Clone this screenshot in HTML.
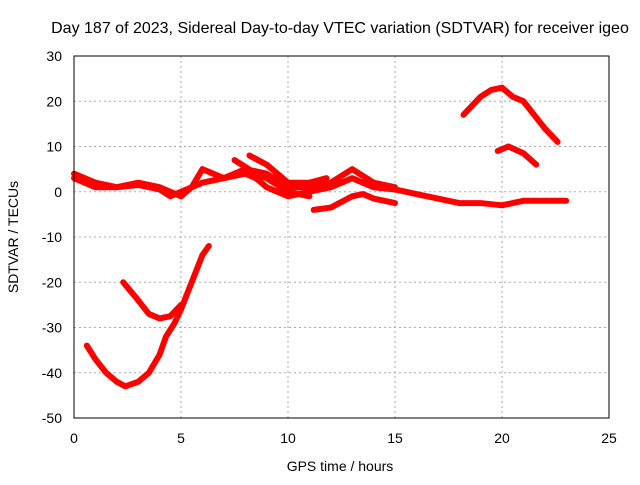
<!DOCTYPE html>
<html><head><meta charset="utf-8"><style>
body{margin:0;background:#fff}
svg text{font-family:"Liberation Sans",sans-serif;font-size:14px;fill:#000}
</style></head><body>
<svg id="chart" width="640" height="480">
<text x="340" y="33" text-anchor="middle" style="font-size:16px">Day 187 of 2023, Sidereal Day-to-day VTEC variation (SDTVAR) for receiver igeo</text>
<text x="340" y="471" text-anchor="middle">GPS time / hours</text>
<text transform="translate(18,237) rotate(-90)" text-anchor="middle">SDTVAR / TECUs</text>
<g id="grid"></g><g id="series"></g>
<rect x="74" y="56" width="535" height="362" fill="none" stroke="#000"/>
</svg>
<script>
const xTicks=[0,5,10,15,20,25];
const yTicks=[-50,-40,-30,-20,-10,0,10,20,30];
const s1x=[0.6,1,1.5,2,2.4,3,3.5,4,4.3,4.7,5,5.5,6,6.3];
const s1y=[-34,-37,-40,-42,-43,-42,-40,-36,-32,-29,-26,-20,-14,-12];
const s2x=[2.3,3,3.5,4,4.5,5];
const s2y=[-20,-24,-27,-28,-27.5,-25];
const s3x=[0,0.5,1,2,3,4,4.5,5,5.5,6,7,8,8.5,9,10,11,12,13,14,15,16,17,18,19,20,21,22,23];
const s3y=[4,3,2,1,1.5,0.5,-1,0,1,2,3,4,3,1,-1,0,1,3,1,0.5,-0.5,-1.5,-2.5,-2.5,-3,-2,-2,-2];
const s4x=[0,1,2,3,4,4.5,5,5.5,6,7,8,9,10,11,12,13,14,15];
const s4y=[3,1,1,2,1,0,-1,1,5,3,5,4,1,1,2,5,2,1];
const s5x=[7.5,8.5,9,10,11];
const s5y=[7,4,3,0,-1];
const s6x=[8.2,9,10,11,11.8];
const s6y=[8,6,2,2,3];
const s7x=[11.2,12,13,13.5,14,15];
const s7y=[-4,-3.5,-1,-0.5,-1.5,-2.5];
const s8x=[18.2,19,19.5,20,20.5,21,21.5,22,22.6];
const s8y=[17,21,22.5,23,21,20,17,14,11];
const s9x=[19.8,20.3,21,21.6];
const s9y=[9,10,8.5,6];
const X=v=>74+v*(535/25), Y=v=>418-(v+50)*(362/80);
const ns="http://www.w3.org/2000/svg", svg=document.getElementById('chart');
const grid=document.getElementById('grid'), ser=document.getElementById('series');
function mk(t,a,p){const e=document.createElementNS(ns,t);for(const k in a)e.setAttribute(k,a[k]);p.appendChild(e);return e;}
xTicks.forEach(v=>{
 const l=mk('line',{x1:X(v),x2:X(v),y1:56,y2:418,stroke:'#aaa','stroke-dasharray':'2,3'},grid);
 
 
 const t=mk('text',{x:X(v),y:443,'text-anchor':'middle'},svg);t.textContent=v;
 
 
});
yTicks.forEach(v=>{
 const l=mk('line',{x1:74,x2:609,y1:Y(v),y2:Y(v),stroke:'#aaa','stroke-dasharray':'2,3'},grid);
 
 
 const t=mk('text',{x:62,y:Y(v)+5,'text-anchor':'end'},svg);t.textContent=v;
 
 
});
[[s1x,s1y],[s2x,s2y],[s3x,s3y],[s4x,s4y],[s5x,s5y],[s6x,s6y],[s7x,s7y],[s8x,s8y],[s9x,s9y]].forEach(([xs,ys])=>{
 const p=mk('polyline',{points:xs.map((x,i)=>X(x)+','+Y(ys[i])).join(' '),fill:'none',stroke:'#f00','stroke-width':6,'stroke-linejoin':'round','stroke-linecap':'round'},ser);
 
 
});
</script>
</body></html>
